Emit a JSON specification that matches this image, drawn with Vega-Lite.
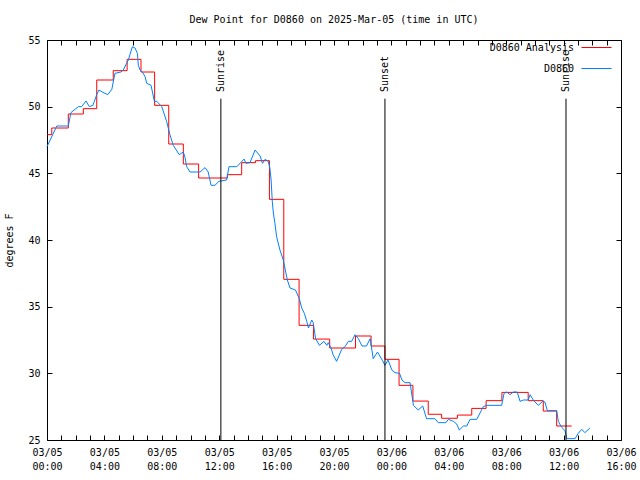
{
  "$schema": "https://vega.github.io/schema/vega-lite/v6.json",
  "autosize": {"type": "none"},
  "width": 574,
  "height": 400,
  "padding": {"left": 47, "top": 40, "right": 19, "bottom": 40},
  "background": "white",
  "config": {
    "view": {"stroke": "black", "strokeWidth": 1},
    "font": "DejaVu Sans Mono",
    "axis": {"labelFont": "DejaVu Sans Mono", "labelFontSize": 10, "labelColor": "black", "titleFont": "DejaVu Sans Mono", "titleFontSize": 10, "titleFontWeight": "normal", "titleColor": "black", "domain": false, "grid": false, "tickColor": "black", "tickWidth": 1, "tickSize": 5},
    "legend": {"labelFont": "DejaVu Sans Mono", "labelFontSize": 10, "labelColor": "black"}
  },
  "title": {"text": "Dew Point for D0860 on 2025-Mar-05 (time in UTC)", "font": "DejaVu Sans Mono", "fontSize": 10, "fontWeight": "normal", "color": "black", "anchor": "middle", "offset": 7},
  "datasets": {
    "analysis": [
      {"time": "2025-03-05T00:00:00Z", "dewpoint": 47.9, "series": "D0860 Analysis"},
      {"time": "2025-03-05T00:20:00Z", "dewpoint": 48.4, "series": "D0860 Analysis"},
      {"time": "2025-03-05T01:29:00Z", "dewpoint": 49.45, "series": "D0860 Analysis"},
      {"time": "2025-03-05T02:32:00Z", "dewpoint": 49.85, "series": "D0860 Analysis"},
      {"time": "2025-03-05T03:28:00Z", "dewpoint": 52.0, "series": "D0860 Analysis"},
      {"time": "2025-03-05T04:37:00Z", "dewpoint": 52.7, "series": "D0860 Analysis"},
      {"time": "2025-03-05T05:35:00Z", "dewpoint": 53.55, "series": "D0860 Analysis"},
      {"time": "2025-03-05T06:33:00Z", "dewpoint": 52.6, "series": "D0860 Analysis"},
      {"time": "2025-03-05T07:30:00Z", "dewpoint": 50.1, "series": "D0860 Analysis"},
      {"time": "2025-03-05T08:29:00Z", "dewpoint": 47.2, "series": "D0860 Analysis"},
      {"time": "2025-03-05T09:30:00Z", "dewpoint": 45.7, "series": "D0860 Analysis"},
      {"time": "2025-03-05T10:34:00Z", "dewpoint": 44.65, "series": "D0860 Analysis"},
      {"time": "2025-03-05T12:34:00Z", "dewpoint": 44.9, "series": "D0860 Analysis"},
      {"time": "2025-03-05T13:34:00Z", "dewpoint": 45.8, "series": "D0860 Analysis"},
      {"time": "2025-03-05T14:32:00Z", "dewpoint": 45.95, "series": "D0860 Analysis"},
      {"time": "2025-03-05T15:30:00Z", "dewpoint": 43.05, "series": "D0860 Analysis"},
      {"time": "2025-03-05T16:30:00Z", "dewpoint": 37.05, "series": "D0860 Analysis"},
      {"time": "2025-03-05T17:34:00Z", "dewpoint": 33.6, "series": "D0860 Analysis"},
      {"time": "2025-03-05T18:34:00Z", "dewpoint": 32.57, "series": "D0860 Analysis"},
      {"time": "2025-03-05T19:42:00Z", "dewpoint": 31.9, "series": "D0860 Analysis"},
      {"time": "2025-03-05T21:30:00Z", "dewpoint": 32.8, "series": "D0860 Analysis"},
      {"time": "2025-03-05T22:35:00Z", "dewpoint": 32.05, "series": "D0860 Analysis"},
      {"time": "2025-03-05T23:33:00Z", "dewpoint": 31.05, "series": "D0860 Analysis"},
      {"time": "2025-03-06T00:32:00Z", "dewpoint": 29.1, "series": "D0860 Analysis"},
      {"time": "2025-03-06T01:30:00Z", "dewpoint": 27.92, "series": "D0860 Analysis"},
      {"time": "2025-03-06T02:34:00Z", "dewpoint": 26.93, "series": "D0860 Analysis"},
      {"time": "2025-03-06T03:30:00Z", "dewpoint": 26.63, "series": "D0860 Analysis"},
      {"time": "2025-03-06T04:36:00Z", "dewpoint": 26.87, "series": "D0860 Analysis"},
      {"time": "2025-03-06T05:36:00Z", "dewpoint": 27.37, "series": "D0860 Analysis"},
      {"time": "2025-03-06T06:36:00Z", "dewpoint": 27.95, "series": "D0860 Analysis"},
      {"time": "2025-03-06T07:42:00Z", "dewpoint": 28.57, "series": "D0860 Analysis"},
      {"time": "2025-03-06T09:32:00Z", "dewpoint": 27.95, "series": "D0860 Analysis"},
      {"time": "2025-03-06T10:35:00Z", "dewpoint": 27.17, "series": "D0860 Analysis"},
      {"time": "2025-03-06T11:31:00Z", "dewpoint": 26.05, "series": "D0860 Analysis"},
      {"time": "2025-03-06T12:34:00Z", "dewpoint": 26.05, "series": "D0860 Analysis"}
    ],
    "obs": [
      {"time": "2025-03-05T00:00:00Z", "dewpoint": 47.0, "series": "D0860"},
      {"time": "2025-03-05T00:41:00Z", "dewpoint": 48.55, "series": "D0860"},
      {"time": "2025-03-05T01:29:00Z", "dewpoint": 48.55, "series": "D0860"},
      {"time": "2025-03-05T01:40:00Z", "dewpoint": 49.55, "series": "D0860"},
      {"time": "2025-03-05T01:57:00Z", "dewpoint": 49.8, "series": "D0860"},
      {"time": "2025-03-05T02:11:00Z", "dewpoint": 50.0, "series": "D0860"},
      {"time": "2025-03-05T02:25:00Z", "dewpoint": 50.0, "series": "D0860"},
      {"time": "2025-03-05T02:43:00Z", "dewpoint": 50.43, "series": "D0860"},
      {"time": "2025-03-05T02:57:00Z", "dewpoint": 50.0, "series": "D0860"},
      {"time": "2025-03-05T03:12:00Z", "dewpoint": 50.1, "series": "D0860"},
      {"time": "2025-03-05T03:28:00Z", "dewpoint": 50.9, "series": "D0860"},
      {"time": "2025-03-05T03:37:00Z", "dewpoint": 51.25, "series": "D0860"},
      {"time": "2025-03-05T03:51:00Z", "dewpoint": 51.1, "series": "D0860"},
      {"time": "2025-03-05T04:14:00Z", "dewpoint": 50.9, "series": "D0860"},
      {"time": "2025-03-05T04:31:00Z", "dewpoint": 51.3, "series": "D0860"},
      {"time": "2025-03-05T04:44:00Z", "dewpoint": 52.5, "series": "D0860"},
      {"time": "2025-03-05T05:09:00Z", "dewpoint": 52.6, "series": "D0860"},
      {"time": "2025-03-05T05:19:00Z", "dewpoint": 52.75, "series": "D0860"},
      {"time": "2025-03-05T05:40:00Z", "dewpoint": 53.5, "series": "D0860"},
      {"time": "2025-03-05T05:57:00Z", "dewpoint": 54.5, "series": "D0860"},
      {"time": "2025-03-05T06:08:00Z", "dewpoint": 54.4, "series": "D0860"},
      {"time": "2025-03-05T06:18:00Z", "dewpoint": 54.0, "series": "D0860"},
      {"time": "2025-03-05T06:22:00Z", "dewpoint": 53.1, "series": "D0860"},
      {"time": "2025-03-05T06:29:00Z", "dewpoint": 52.75, "series": "D0860"},
      {"time": "2025-03-05T06:40:00Z", "dewpoint": 52.57, "series": "D0860"},
      {"time": "2025-03-05T06:50:00Z", "dewpoint": 52.25, "series": "D0860"},
      {"time": "2025-03-05T06:57:00Z", "dewpoint": 51.75, "series": "D0860"},
      {"time": "2025-03-05T07:15:00Z", "dewpoint": 51.6, "series": "D0860"},
      {"time": "2025-03-05T07:29:00Z", "dewpoint": 50.4, "series": "D0860"},
      {"time": "2025-03-05T07:39:00Z", "dewpoint": 50.4, "series": "D0860"},
      {"time": "2025-03-05T08:00:00Z", "dewpoint": 50.0, "series": "D0860"},
      {"time": "2025-03-05T08:20:00Z", "dewpoint": 48.9, "series": "D0860"},
      {"time": "2025-03-05T08:34:00Z", "dewpoint": 47.9, "series": "D0860"},
      {"time": "2025-03-05T08:48:00Z", "dewpoint": 47.1, "series": "D0860"},
      {"time": "2025-03-05T09:13:00Z", "dewpoint": 46.4, "series": "D0860"},
      {"time": "2025-03-05T09:30:00Z", "dewpoint": 46.6, "series": "D0860"},
      {"time": "2025-03-05T09:37:00Z", "dewpoint": 46.2, "series": "D0860"},
      {"time": "2025-03-05T09:44:00Z", "dewpoint": 45.5, "series": "D0860"},
      {"time": "2025-03-05T09:58:00Z", "dewpoint": 45.1, "series": "D0860"},
      {"time": "2025-03-05T10:40:00Z", "dewpoint": 45.1, "series": "D0860"},
      {"time": "2025-03-05T11:01:00Z", "dewpoint": 45.43, "series": "D0860"},
      {"time": "2025-03-05T11:14:00Z", "dewpoint": 45.1, "series": "D0860"},
      {"time": "2025-03-05T11:26:00Z", "dewpoint": 44.1, "series": "D0860"},
      {"time": "2025-03-05T11:42:00Z", "dewpoint": 44.1, "series": "D0860"},
      {"time": "2025-03-05T11:59:00Z", "dewpoint": 44.4, "series": "D0860"},
      {"time": "2025-03-05T12:31:00Z", "dewpoint": 44.5, "series": "D0860"},
      {"time": "2025-03-05T12:41:00Z", "dewpoint": 45.5, "series": "D0860"},
      {"time": "2025-03-05T13:14:00Z", "dewpoint": 45.5, "series": "D0860"},
      {"time": "2025-03-05T13:44:00Z", "dewpoint": 46.07, "series": "D0860"},
      {"time": "2025-03-05T13:52:00Z", "dewpoint": 45.75, "series": "D0860"},
      {"time": "2025-03-05T14:09:00Z", "dewpoint": 45.8, "series": "D0860"},
      {"time": "2025-03-05T14:30:00Z", "dewpoint": 46.75, "series": "D0860"},
      {"time": "2025-03-05T14:51:00Z", "dewpoint": 46.3, "series": "D0860"},
      {"time": "2025-03-05T15:01:00Z", "dewpoint": 45.75, "series": "D0860"},
      {"time": "2025-03-05T15:12:00Z", "dewpoint": 46.05, "series": "D0860"},
      {"time": "2025-03-05T15:25:00Z", "dewpoint": 45.9, "series": "D0860"},
      {"time": "2025-03-05T15:32:00Z", "dewpoint": 45.4, "series": "D0860"},
      {"time": "2025-03-05T15:37:00Z", "dewpoint": 44.5, "series": "D0860"},
      {"time": "2025-03-05T15:42:00Z", "dewpoint": 42.9, "series": "D0860"},
      {"time": "2025-03-05T15:46:00Z", "dewpoint": 42.1, "series": "D0860"},
      {"time": "2025-03-05T15:53:00Z", "dewpoint": 41.25, "series": "D0860"},
      {"time": "2025-03-05T16:00:00Z", "dewpoint": 40.25, "series": "D0860"},
      {"time": "2025-03-05T16:14:00Z", "dewpoint": 39.25, "series": "D0860"},
      {"time": "2025-03-05T16:28:00Z", "dewpoint": 38.5, "series": "D0860"},
      {"time": "2025-03-05T16:38:00Z", "dewpoint": 37.6, "series": "D0860"},
      {"time": "2025-03-05T16:45:00Z", "dewpoint": 37.0, "series": "D0860"},
      {"time": "2025-03-05T16:56:00Z", "dewpoint": 36.4, "series": "D0860"},
      {"time": "2025-03-05T17:19:00Z", "dewpoint": 36.25, "series": "D0860"},
      {"time": "2025-03-05T17:35:00Z", "dewpoint": 35.6, "series": "D0860"},
      {"time": "2025-03-05T17:45:00Z", "dewpoint": 34.9, "series": "D0860"},
      {"time": "2025-03-05T17:56:00Z", "dewpoint": 34.5, "series": "D0860"},
      {"time": "2025-03-05T18:06:00Z", "dewpoint": 33.9, "series": "D0860"},
      {"time": "2025-03-05T18:13:00Z", "dewpoint": 33.4, "series": "D0860"},
      {"time": "2025-03-05T18:27:00Z", "dewpoint": 34.0, "series": "D0860"},
      {"time": "2025-03-05T18:33:00Z", "dewpoint": 33.8, "series": "D0860"},
      {"time": "2025-03-05T18:43:00Z", "dewpoint": 32.6, "series": "D0860"},
      {"time": "2025-03-05T18:59:00Z", "dewpoint": 32.1, "series": "D0860"},
      {"time": "2025-03-05T19:18:00Z", "dewpoint": 32.4, "series": "D0860"},
      {"time": "2025-03-05T19:30:00Z", "dewpoint": 32.1, "series": "D0860"},
      {"time": "2025-03-05T19:36:00Z", "dewpoint": 32.3, "series": "D0860"},
      {"time": "2025-03-05T19:48:00Z", "dewpoint": 31.9, "series": "D0860"},
      {"time": "2025-03-05T19:56:00Z", "dewpoint": 31.4, "series": "D0860"},
      {"time": "2025-03-05T20:11:00Z", "dewpoint": 30.9, "series": "D0860"},
      {"time": "2025-03-05T20:32:00Z", "dewpoint": 31.8, "series": "D0860"},
      {"time": "2025-03-05T20:46:00Z", "dewpoint": 32.0, "series": "D0860"},
      {"time": "2025-03-05T21:00:00Z", "dewpoint": 32.4, "series": "D0860"},
      {"time": "2025-03-05T21:14:00Z", "dewpoint": 32.4, "series": "D0860"},
      {"time": "2025-03-05T21:28:00Z", "dewpoint": 32.9, "series": "D0860"},
      {"time": "2025-03-05T21:42:00Z", "dewpoint": 32.6, "series": "D0860"},
      {"time": "2025-03-05T21:57:00Z", "dewpoint": 32.05, "series": "D0860"},
      {"time": "2025-03-05T22:16:00Z", "dewpoint": 32.05, "series": "D0860"},
      {"time": "2025-03-05T22:31:00Z", "dewpoint": 32.6, "series": "D0860"},
      {"time": "2025-03-05T22:44:00Z", "dewpoint": 31.1, "series": "D0860"},
      {"time": "2025-03-05T23:02:00Z", "dewpoint": 31.6, "series": "D0860"},
      {"time": "2025-03-05T23:23:00Z", "dewpoint": 30.95, "series": "D0860"},
      {"time": "2025-03-05T23:33:00Z", "dewpoint": 30.6, "series": "D0860"},
      {"time": "2025-03-05T23:46:00Z", "dewpoint": 31.0, "series": "D0860"},
      {"time": "2025-03-06T00:02:00Z", "dewpoint": 30.25, "series": "D0860"},
      {"time": "2025-03-06T00:15:00Z", "dewpoint": 30.05, "series": "D0860"},
      {"time": "2025-03-06T00:34:00Z", "dewpoint": 30.0, "series": "D0860"},
      {"time": "2025-03-06T00:44:00Z", "dewpoint": 29.5, "series": "D0860"},
      {"time": "2025-03-06T00:57:00Z", "dewpoint": 29.3, "series": "D0860"},
      {"time": "2025-03-06T01:18:00Z", "dewpoint": 29.3, "series": "D0860"},
      {"time": "2025-03-06T01:29:00Z", "dewpoint": 28.0, "series": "D0860"},
      {"time": "2025-03-06T01:32:00Z", "dewpoint": 27.6, "series": "D0860"},
      {"time": "2025-03-06T01:52:00Z", "dewpoint": 27.25, "series": "D0860"},
      {"time": "2025-03-06T02:11:00Z", "dewpoint": 27.55, "series": "D0860"},
      {"time": "2025-03-06T02:27:00Z", "dewpoint": 26.6, "series": "D0860"},
      {"time": "2025-03-06T03:02:00Z", "dewpoint": 26.6, "series": "D0860"},
      {"time": "2025-03-06T03:16:00Z", "dewpoint": 26.3, "series": "D0860"},
      {"time": "2025-03-06T03:48:00Z", "dewpoint": 26.3, "series": "D0860"},
      {"time": "2025-03-06T03:58:00Z", "dewpoint": 26.55, "series": "D0860"},
      {"time": "2025-03-06T04:19:00Z", "dewpoint": 26.4, "series": "D0860"},
      {"time": "2025-03-06T04:33:00Z", "dewpoint": 26.2, "series": "D0860"},
      {"time": "2025-03-06T04:44:00Z", "dewpoint": 25.75, "series": "D0860"},
      {"time": "2025-03-06T05:01:00Z", "dewpoint": 26.05, "series": "D0860"},
      {"time": "2025-03-06T05:15:00Z", "dewpoint": 26.05, "series": "D0860"},
      {"time": "2025-03-06T05:29:00Z", "dewpoint": 26.55, "series": "D0860"},
      {"time": "2025-03-06T05:57:00Z", "dewpoint": 26.55, "series": "D0860"},
      {"time": "2025-03-06T06:24:00Z", "dewpoint": 27.5, "series": "D0860"},
      {"time": "2025-03-06T06:38:00Z", "dewpoint": 27.6, "series": "D0860"},
      {"time": "2025-03-06T07:41:00Z", "dewpoint": 27.6, "series": "D0860"},
      {"time": "2025-03-06T07:51:00Z", "dewpoint": 28.5, "series": "D0860"},
      {"time": "2025-03-06T08:02:00Z", "dewpoint": 28.6, "series": "D0860"},
      {"time": "2025-03-06T08:16:00Z", "dewpoint": 28.4, "series": "D0860"},
      {"time": "2025-03-06T08:30:00Z", "dewpoint": 28.6, "series": "D0860"},
      {"time": "2025-03-06T08:46:00Z", "dewpoint": 28.6, "series": "D0860"},
      {"time": "2025-03-06T08:58:00Z", "dewpoint": 27.9, "series": "D0860"},
      {"time": "2025-03-06T09:12:00Z", "dewpoint": 28.0, "series": "D0860"},
      {"time": "2025-03-06T09:32:00Z", "dewpoint": 28.0, "series": "D0860"},
      {"time": "2025-03-06T09:40:00Z", "dewpoint": 28.4, "series": "D0860"},
      {"time": "2025-03-06T09:53:00Z", "dewpoint": 28.0, "series": "D0860"},
      {"time": "2025-03-06T10:14:00Z", "dewpoint": 27.6, "series": "D0860"},
      {"time": "2025-03-06T10:33:00Z", "dewpoint": 27.9, "series": "D0860"},
      {"time": "2025-03-06T10:42:00Z", "dewpoint": 27.85, "series": "D0860"},
      {"time": "2025-03-06T10:52:00Z", "dewpoint": 27.2, "series": "D0860"},
      {"time": "2025-03-06T11:31:00Z", "dewpoint": 27.2, "series": "D0860"},
      {"time": "2025-03-06T11:38:00Z", "dewpoint": 26.4, "series": "D0860"},
      {"time": "2025-03-06T11:52:00Z", "dewpoint": 25.95, "series": "D0860"},
      {"time": "2025-03-06T12:06:00Z", "dewpoint": 25.7, "series": "D0860"},
      {"time": "2025-03-06T12:13:00Z", "dewpoint": 25.1, "series": "D0860"},
      {"time": "2025-03-06T12:48:00Z", "dewpoint": 25.1, "series": "D0860"},
      {"time": "2025-03-06T13:01:00Z", "dewpoint": 25.5, "series": "D0860"},
      {"time": "2025-03-06T13:16:00Z", "dewpoint": 25.8, "series": "D0860"},
      {"time": "2025-03-06T13:29:00Z", "dewpoint": 25.55, "series": "D0860"},
      {"time": "2025-03-06T13:50:00Z", "dewpoint": 25.9, "series": "D0860"}
    ],
    "sun": [
      {"time": "2025-03-05T12:07:00Z", "event": "Sunrise"},
      {"time": "2025-03-05T23:33:00Z", "event": "Sunset"},
      {"time": "2025-03-06T12:10:00Z", "event": "Sunrise"}
    ]
  },
  "resolve": {"axis": {"x": "independent", "y": "independent"}},
  "layer": [
    {
      "data": {"name": "analysis"},
      "mark": {"type": "line", "interpolate": "step-after", "strokeWidth": 1},
      "encoding": {
        "x": {"field": "time", "type": "temporal",
          "scale": {"type": "utc", "domain": [1741132800000, 1741276800000], "nice": false},
          "axis": {"orient": "bottom", "title": null, "offset": -5, "labelPadding": 7, "labelOverlap": false, "labelLineHeight": 14, "labelFlush": false,
            "values": [1741132800000, 1741136400000, 1741140000000, 1741143600000, 1741147200000, 1741150800000, 1741154400000, 1741158000000, 1741161600000, 1741165200000, 1741168800000, 1741172400000, 1741176000000, 1741179600000, 1741183200000, 1741186800000, 1741190400000, 1741194000000, 1741197600000, 1741201200000, 1741204800000, 1741208400000, 1741212000000, 1741215600000, 1741219200000, 1741222800000, 1741226400000, 1741230000000, 1741233600000, 1741237200000, 1741240800000, 1741244400000, 1741248000000, 1741251600000, 1741255200000, 1741258800000, 1741262400000, 1741266000000, 1741269600000, 1741273200000, 1741276800000],
            "labelExpr": "utchours(datum.value) % 4 == 0 ? [utcFormat(datum.value, '%m/%d'), utcFormat(datum.value, '%H:%M')] : ''"}},
        "y": {"field": "dewpoint", "type": "quantitative",
          "scale": {"domain": [25, 55], "nice": false, "zero": false},
          "axis": {"orient": "left", "title": "degrees F", "values": [25, 30, 35, 40, 45, 50, 55], "offset": -5, "labelPadding": 7, "titlePadding": 13, "labelFlush": false}},
        "color": {"field": "series", "type": "nominal",
          "scale": {"domain": ["D0860 Analysis", "D0860"], "range": ["#ff0000", "#0080ff"]},
          "legend": {"title": null, "orient": "none", "legendX": 534, "legendY": -8, "symbolType": "stroke", "symbolSize": 900, "symbolStrokeWidth": 1, "rowPadding": -21, "padding": 0,
            "encode": {"labels": {"update": {"align": {"value": "right"}, "x": {"value": -7}}}}}}
      }
    },
    {
      "data": {"name": "obs"},
      "mark": {"type": "line", "strokeWidth": 1},
      "encoding": {
        "x": {"field": "time", "type": "temporal",
          "axis": {"orient": "top", "title": null, "labels": false, "offset": -5,
            "values": [1741132800000, 1741136400000, 1741140000000, 1741143600000, 1741147200000, 1741150800000, 1741154400000, 1741158000000, 1741161600000, 1741165200000, 1741168800000, 1741172400000, 1741176000000, 1741179600000, 1741183200000, 1741186800000, 1741190400000, 1741194000000, 1741197600000, 1741201200000, 1741204800000, 1741208400000, 1741212000000, 1741215600000, 1741219200000, 1741222800000, 1741226400000, 1741230000000, 1741233600000, 1741237200000, 1741240800000, 1741244400000, 1741248000000, 1741251600000, 1741255200000, 1741258800000, 1741262400000, 1741266000000, 1741269600000, 1741273200000, 1741276800000]}},
        "y": {"field": "dewpoint", "type": "quantitative",
          "axis": {"orient": "right", "title": null, "labels": false, "offset": -5, "values": [25, 30, 35, 40, 45, 50, 55]}},
        "color": {"field": "series", "type": "nominal"}
      }
    },
    {
      "data": {"name": "sun"},
      "mark": {"type": "rule", "color": "black", "strokeWidth": 1},
      "encoding": {
        "x": {"field": "time", "type": "temporal", "axis": null},
        "y": {"datum": 50.6, "type": "quantitative", "axis": null},
        "y2": {"datum": 25}
      }
    },
    {
      "data": {"name": "sun"},
      "mark": {"type": "text", "angle": 270, "align": "left", "baseline": "middle", "font": "DejaVu Sans Mono", "fontSize": 10, "color": "black"},
      "encoding": {
        "x": {"field": "time", "type": "temporal", "axis": null},
        "y": {"datum": 51.1, "type": "quantitative", "axis": null},
        "text": {"field": "event"}
      }
    }
  ]
}
